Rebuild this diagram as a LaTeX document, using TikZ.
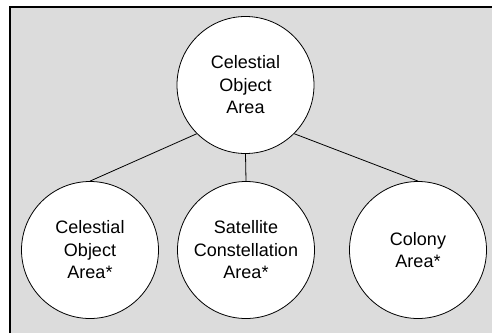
\documentclass[tikz,border=0pt]{standalone}
\usepackage{fontspec}
\setmainfont{Liberation Sans}
\usepackage{tikz}
\usetikzlibrary{positioning}
\definecolor{panelgray}{RGB}{220,220,220}
\tikzstyle{area} = [circle, draw, thick, fill=white, minimum size=137pt, inner sep=0pt, align=center, font=\fontsize{18}{22.5}\selectfont]
\tikzstyle{link} = [thick]

\begin{document}
\begin{tikzpicture}[x=1pt, y=-1pt]
  % Frame
  \useasboundingbox (0,0) rectangle (492,333);
  \fill[panelgray] (10,7) rectangle (492,333);
  \draw[line width=1.6pt] (10,333) -- (10,7) -- (492,7);

  % Top area
  \node[area] (obj) at (245.5,85) {Celestial\\Object\\Area};

  % Sub areas
  \node[area] (subobj) at (90,250) {Celestial\\Object\\Area*};
  \node[area] (sat) at (246,250) {Satellite\\Constellation\\Area*};
  \node[area] (colony) at (418,250) {Colony\\Area*};

  % Links
  \draw[link] (obj.south west) -- (subobj.north);
  \draw[link] (obj.south) -- (sat.north);
  \draw[link] (obj.south east) -- (colony.north);
\end{tikzpicture}
\end{document}
